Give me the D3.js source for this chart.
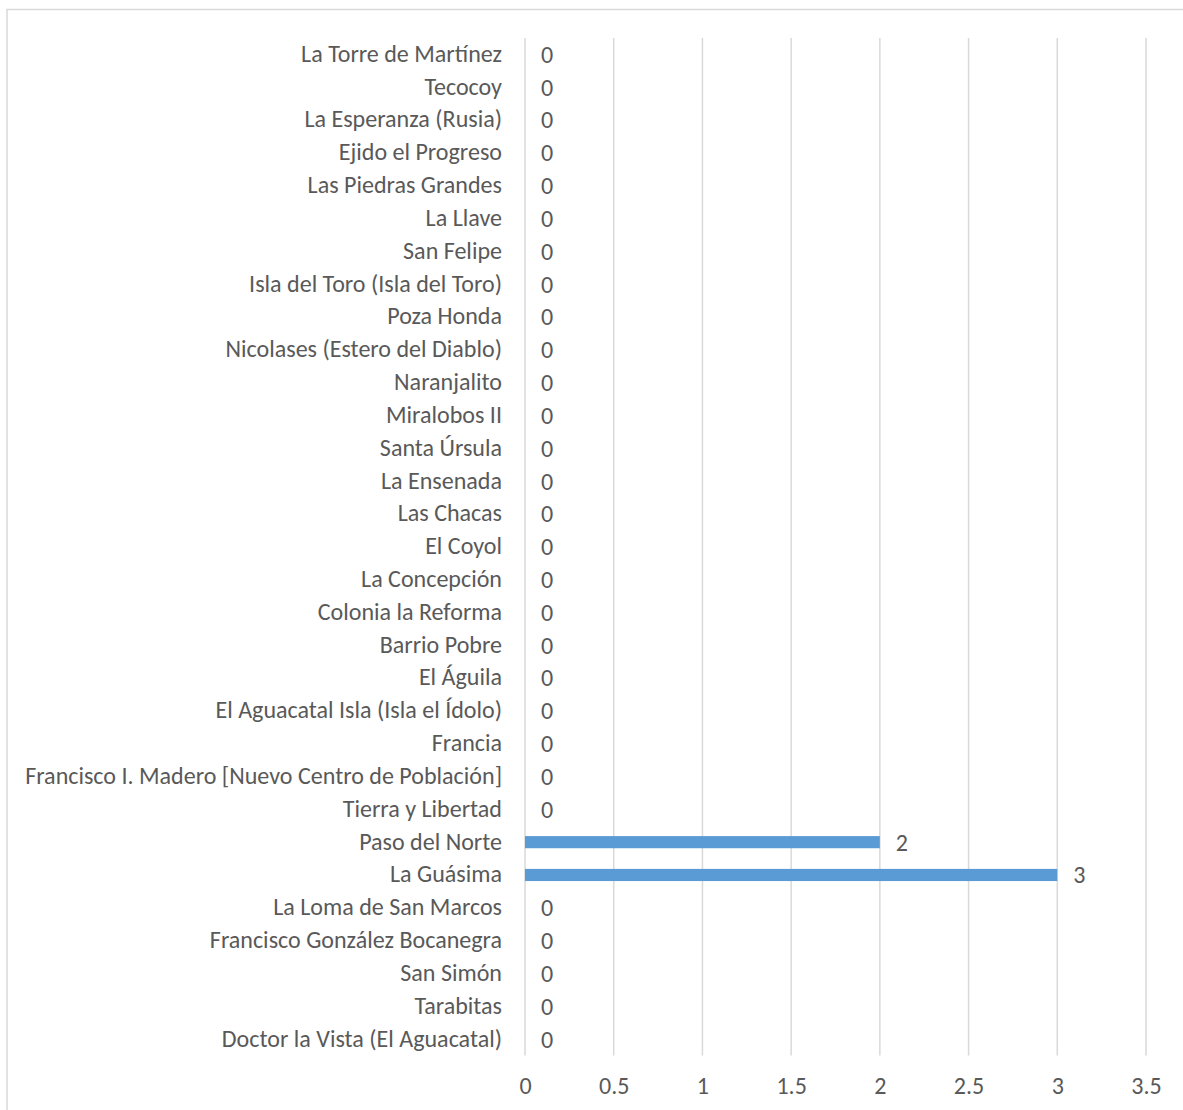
<!DOCTYPE html>
<html>
<head>
<meta charset="utf-8">
<script src="https://cdn.jsdelivr.net/npm/d3@7"></script>
<style>
  html, body { margin: 0; padding: 0; background: #fff; }
  svg { display: block; }
</style>
</head>
<body>
<svg id="chart" width="1183" height="1110"></svg>
<script>
// Categories listed top to bottom as displayed
const categories = [
  "La Torre de Martínez",
  "Tecocoy",
  "La Esperanza (Rusia)",
  "Ejido el Progreso",
  "Las Piedras Grandes",
  "La Llave",
  "San Felipe",
  "Isla del Toro (Isla del Toro)",
  "Poza Honda",
  "Nicolases (Estero del Diablo)",
  "Naranjalito",
  "Miralobos II",
  "Santa Úrsula",
  "La Ensenada",
  "Las Chacas",
  "El Coyol",
  "La Concepción",
  "Colonia la Reforma",
  "Barrio Pobre",
  "El Águila",
  "El Aguacatal Isla (Isla el Ídolo)",
  "Francia",
  "Francisco I. Madero [Nuevo Centro de Población]",
  "Tierra y Libertad",
  "Paso del Norte",
  "La Guásima",
  "La Loma de San Marcos",
  "Francisco González Bocanegra",
  "San Simón",
  "Tarabitas",
  "Doctor la Vista (El Aguacatal)"
];
const values = [0,0,0,0,0,0,0,0,0,0,0,0,0,0,0,0,0,0,0,0,0,0,0,0,2,3,0,0,0,0,0];
const tickValues = [0, 0.5, 1, 1.5, 2, 2.5, 3, 3.5];

const svg = d3.select("#chart");
const FONT = "Carlito, Calibri, 'Open Sans', sans-serif";
const TEXT = "#595959";
const GRID = "#d9d9d9";
const BAR = "#5b9bd5";

// outer chart border (extends beyond canvas on right/bottom)
svg.append("rect")
  .attr("x", 7).attr("y", 9.5)
  .attr("width", 1200).attr("height", 1200)
  .attr("fill", "none").attr("stroke", GRID).attr("stroke-width", 1.5);

const plotLeft = 525, plotRight = 1146, plotTop = 38, plotBottom = 1055.5;

const x = d3.scaleLinear().domain([0, 3.5]).range([plotLeft, plotRight]);
const y = d3.scaleBand().domain(categories).range([plotTop, plotBottom]).paddingInner(0.63).paddingOuter(0.315);

// determine font size so longest label matches reference width
const probe = svg.append("text").attr("font-family", FONT).attr("font-size", 20)
  .text("Francisco I. Madero [Nuevo Centro de Población]");
const w20 = probe.node().getComputedTextLength();
probe.remove();
const fs = Math.max(14, Math.min(26, 20 * 477 / w20));

// gridlines
svg.append("g").selectAll("line").data(tickValues).join("line")
  .attr("x1", d => x(d)).attr("x2", d => x(d))
  .attr("y1", plotTop).attr("y2", plotBottom)
  .attr("stroke", GRID).attr("stroke-width", 1.5);

// bars
svg.append("g").selectAll("rect").data(categories.map((c, i) => ({c, v: values[i]}))).join("rect")
  .attr("x", x(0))
  .attr("y", d => y(d.c))
  .attr("width", d => x(d.v) - x(0))
  .attr("height", y.bandwidth())
  .attr("fill", BAR);

// category labels
svg.append("g").selectAll("text").data(categories).join("text")
  .attr("x", plotLeft - 23)
  .attr("y", d => y(d) + y.bandwidth() / 2 - 1)
  .attr("dy", "0.35em")
  .attr("text-anchor", "end")
  .attr("font-family", FONT).attr("font-size", fs)
  .attr("fill", TEXT)
  .text(d => d);

// value labels
svg.append("g").selectAll("text").data(categories.map((c, i) => ({c, v: values[i]}))).join("text")
  .attr("x", d => x(d.v) + 16)
  .attr("y", d => y(d.c) + y.bandwidth() / 2)
  .attr("dy", "0.35em")
  .attr("font-family", FONT).attr("font-size", fs)
  .attr("fill", TEXT)
  .text(d => d.v);

// x axis tick labels
const xAxis = d3.axisBottom(x).tickValues(tickValues).tickSize(0).tickPadding(0)
  .tickFormat(d => String(d));
const gx = svg.append("g").attr("transform", `translate(0, ${plotBottom})`).call(xAxis);
gx.select(".domain").remove();
gx.selectAll("text")
  .attr("y", 38).attr("dy", "0")
  .attr("font-family", FONT).attr("font-size", fs)
  .attr("fill", TEXT);
</script>
</body>
</html>
